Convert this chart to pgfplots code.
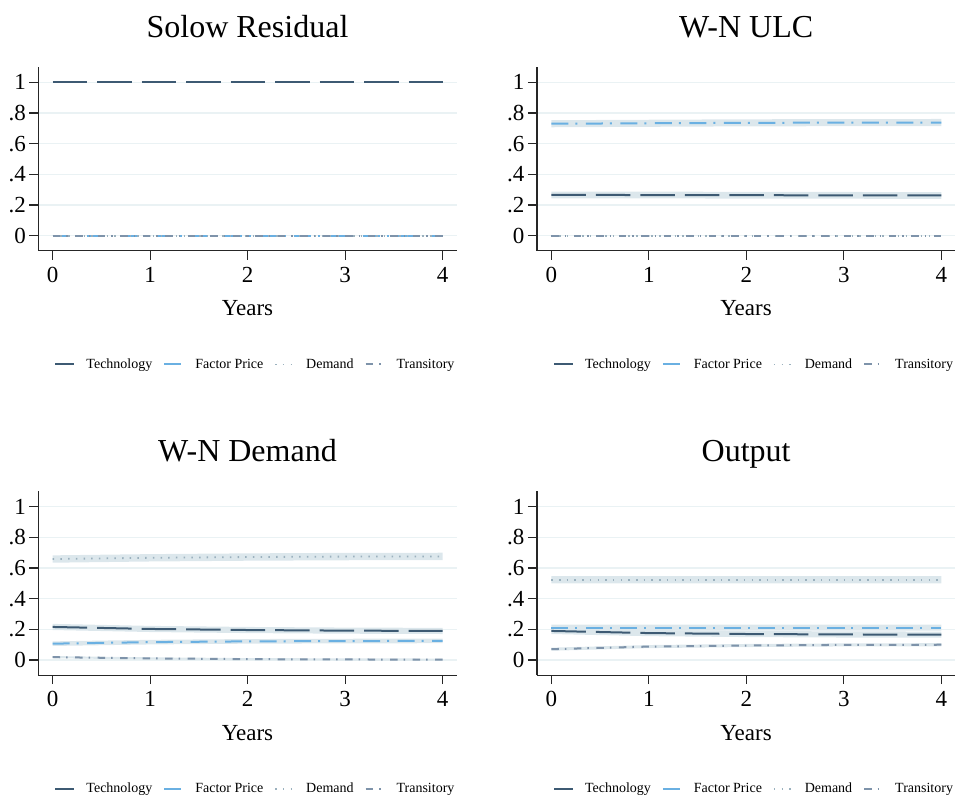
\documentclass[border=0pt]{standalone}
\usepackage{pgfplots}
\pgfplotsset{compat=1.18}
\usepackage{fontspec}
\setmainfont{Liberation Serif}
\definecolor{techc}{RGB}{61,90,115}
\definecolor{factc}{RGB}{106,176,226}
\definecolor{demc}{RGB}{155,177,190}
\definecolor{tranc}{RGB}{126,147,170}
\definecolor{bandc}{RGB}{220,231,236}
\definecolor{gridc}{RGB}{234,242,244}
\pgfplotsset{
 panel/.style={
  scale only axis, width=418.4pt, height=184pt,
  anchor=south west,
  xmin=-0.148, xmax=4.144, ymin=-0.098, ymax=1.102,
  axis lines=left, axis line style={-, line width=1.2pt, color=black!85},
  tick align=outside, major tick length=9pt,
  tick style={line width=1.2pt, color=black!85},
  xtick={0,1,2,3,4}, xticklabels={0,1,2,3,4},
  ytick={0,0.2,0.4,0.6,0.8,1}, yticklabels={0,.2,.4,.6,.8,1},
  ymajorgrids, grid style={line width=1.5pt, color=gridc},
  ticklabel style={font=\fontsize{23}{23}\selectfont},
  xticklabel style={yshift=-4pt},
  title style={at={(axis description cs:0.5,1)}, anchor=base, yshift=23.2pt, font=\fontsize{32}{32}\selectfont},
  xlabel=Years,
  xlabel style={at={(axis description cs:0.5,0)}, anchor=base, yshift=-65pt, font=\fontsize{23}{23}\selectfont},
  legend columns=4,
  legend style={at={(axis description cs:0.519,-0.618)}, anchor=center, draw=none, fill=none,
    font=\fontsize{14}{14}\selectfont,
    /tikz/every odd column/.append style={column sep=9pt},
    /tikz/every even column/.append style={column sep=9pt}},
  legend image code/.code={\draw[##1] (0pt,0pt) -- (19pt,0pt);},
 },
 tech/.style={color=techc, line width=2pt, dash pattern=on 34.5pt off 10pt},
 fact/.style={color=factc, line width=2pt, dash pattern=on 17pt off 7pt on 2pt off 8.5pt},
 dem/.style={color=demc, line width=1.8pt, dash pattern=on 1.5pt off 6.2pt},
 tran/.style={color=tranc, line width=2pt, dash pattern=on 7.5pt off 6pt on 1.5pt off 7.5pt},
 band/.style={fill=bandc, draw=none, forget plot},
}
\begin{document}
\begin{tikzpicture}
\path[use as bounding box] (0,0) rectangle (956pt,796pt);
% Top-left: Solow Residual
\begin{axis}[panel, at={(38.3pt,545.3pt)}, title={Solow Residual}]
\addplot[tech] coordinates {(0,1) (1,1) (2,1) (3,1) (4,1)};
\addplot[fact] coordinates {(0,0) (1,0) (2,0) (3,0) (4,0)};
\addplot[dem] coordinates {(0,0) (1,0) (2,0) (3,0) (4,0)};
\addplot[tran] coordinates {(0,0) (1,0) (2,0) (3,0) (4,0)};
\legend{Technology,Factor Price,Demand,Transitory}
\end{axis}
% Top-right: W-N ULC
\begin{axis}[panel, at={(536.9pt,545.3pt)}, title={W-N ULC}]
\addplot[band] coordinates {(0,.244) (1,.243) (2,.242) (3,.241) (4,.240) (4,.284) (3,.285) (2,.286) (1,.287) (0,.288)} -- cycle;
\addplot[band] coordinates {(0,.707) (1,.710) (2,.713) (3,.714) (4,.715) (4,.761) (3,.760) (2,.759) (1,.756) (0,.753)} -- cycle;
\addplot[tech] coordinates {(0,.266) (1,.265) (2,.264) (3,.263) (4,.262)};
\addplot[fact] coordinates {(0,.730) (1,.733) (2,.736) (3,.737) (4,.738)};
\addplot[dem] coordinates {(0,0) (1,0) (2,0) (3,0) (4,0)};
\addplot[tran] coordinates {(0,0) (1,0) (2,0) (3,0) (4,0)};
\legend{Technology,Factor Price,Demand,Transitory}
\end{axis}
% Bottom-left: W-N Demand
\begin{axis}[panel, at={(38.3pt,120.9pt)}, title={W-N Demand}]
\addplot[band] coordinates {(0,.196) (1,.183) (2,.176) (3,.172) (4,.170) (4,.210) (3,.212) (2,.216) (1,.223) (0,.236)} -- cycle;
\addplot[band] coordinates {(0,.092) (1,.102) (2,.107) (3,.109) (4,.110) (4,.140) (3,.139) (2,.137) (1,.132) (0,.122)} -- cycle;
\addplot[band] coordinates {(0,.635) (1,.643) (2,.648) (3,.651) (4,.652) (4,.700) (3,.699) (2,.696) (1,.691) (0,.683)} -- cycle;
\addplot[band] coordinates {(0,.012) (1,.004) (2,-.001) (3,-.003) (4,-.004) (4,.010) (3,.011) (2,.013) (1,.018) (0,.026)} -- cycle;
\addplot[tech] coordinates {(0,.216) (1,.203) (2,.196) (3,.192) (4,.190)};
\addplot[fact] coordinates {(0,.107) (1,.117) (2,.122) (3,.124) (4,.125)};
\addplot[dem] coordinates {(0,.659) (1,.667) (2,.672) (3,.675) (4,.676)};
\addplot[tran] coordinates {(0,.019) (1,.011) (2,.006) (3,.004) (4,.003)};
\legend{Technology,Factor Price,Demand,Transitory}
\end{axis}
% Bottom-right: Output
\begin{axis}[panel, at={(536.9pt,120.9pt)}, title={Output}]
\addplot[band] coordinates {(0,.170) (1,.156) (2,.150) (3,.147) (4,.146) (4,.186) (3,.187) (2,.190) (1,.196) (0,.210)} -- cycle;
\addplot[band] coordinates {(0,.192) (1,.192) (2,.192) (3,.192) (4,.192) (4,.232) (3,.232) (2,.232) (1,.232) (0,.232)} -- cycle;
\addplot[band] coordinates {(0,.500) (1,.500) (2,.500) (3,.500) (4,.500) (4,.548) (3,.548) (2,.548) (1,.548) (0,.548)} -- cycle;
\addplot[band] coordinates {(0,.061) (1,.078) (2,.085) (3,.089) (4,.090) (4,.110) (3,.109) (2,.105) (1,.098) (0,.081)} -- cycle;
\addplot[tech] coordinates {(0,.190) (1,.176) (2,.170) (3,.167) (4,.166)};
\addplot[fact] coordinates {(0,.212) (1,.212) (2,.212) (3,.212) (4,.212)};
\addplot[dem] coordinates {(0,.524) (1,.524) (2,.524) (3,.524) (4,.524)};
\addplot[tran] coordinates {(0,.071) (1,.088) (2,.095) (3,.099) (4,.100)};
\legend{Technology,Factor Price,Demand,Transitory}
\end{axis}
\end{tikzpicture}
\end{document}
